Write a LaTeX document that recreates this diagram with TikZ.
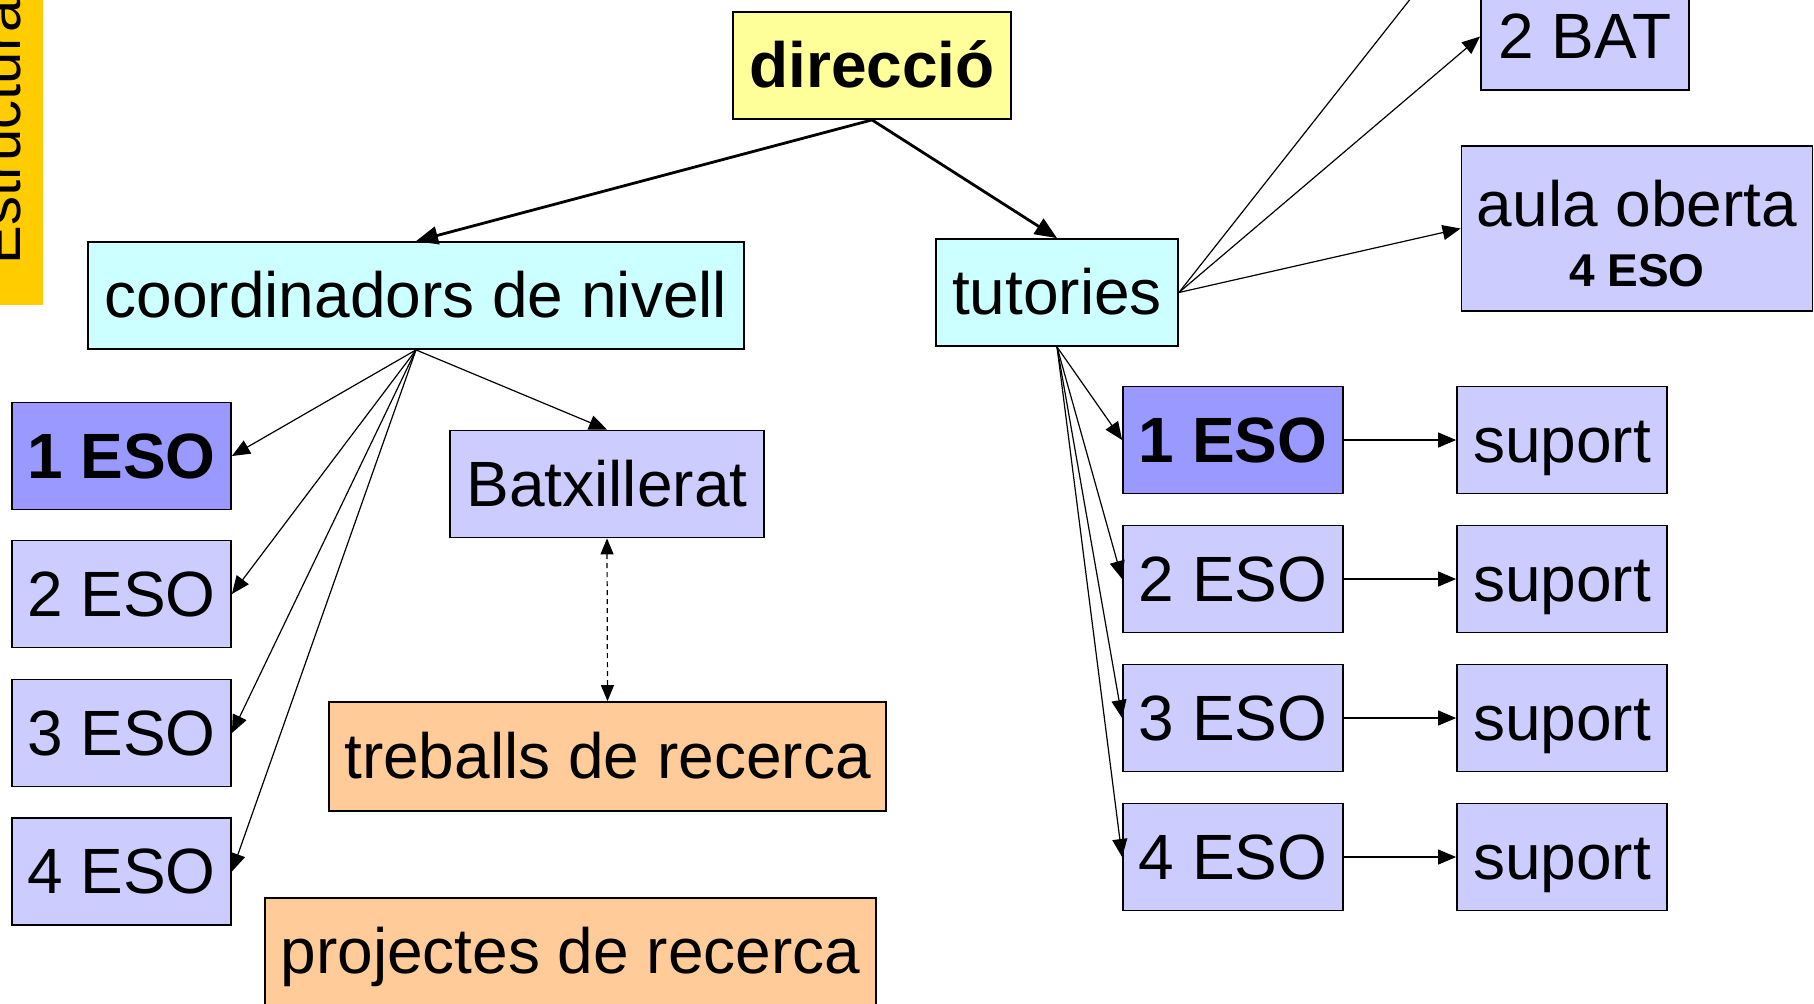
\documentclass[tikz,border=0pt]{standalone}
\usepackage{fontspec}
\setmainfont{Liberation Sans}
\usetikzlibrary{arrows.meta}
\definecolor{cyel}{HTML}{FFFF99}
\definecolor{ccyan}{HTML}{CCFFFF}
\definecolor{clav}{HTML}{CCCCFF}
\definecolor{cblue}{HTML}{9999FF}
\definecolor{corange}{HTML}{FFCC99}
\definecolor{cstrip}{HTML}{FFCC00}
\begin{document}
\begin{tikzpicture}[x=0.5pt,y=-0.5pt,
  box/.style={draw=black, line width=0.9pt, inner sep=0pt, minimum height=53.5pt,
    text height=28.96pt, text depth=6.78pt, font=\fontsize{32}{38}\selectfont},
  boldbox/.style={box, font=\fontsize{32}{38}\selectfont\bfseries},
  conn/.style={line width=0.6pt, -{Triangle[length=9pt,width=7.5pt]}},
  bigconn/.style={line width=1.4pt, -{Triangle[length=11pt,width=9pt]}},
  dconn/.style={line width=0.6pt, dash pattern=on 2.5pt off 2pt,
    {Triangle[length=8pt,width=6.5pt]}-{Triangle[length=8pt,width=6.5pt]}}
]
\useasboundingbox (0,0) rectangle (1814,1003);
\clip (0,0) rectangle (1814,1003);
\fill[white] (0,0) rectangle (1814,1003);

% side strip
\node[fill=cstrip, draw=none, inner sep=0pt, minimum width=21.5pt, minimum height=152.5pt] (strip) at (21.5,152.5) {};
\node[rotate=90, anchor=base west, inner sep=0pt, font=\fontsize{29}{35}\selectfont] (estr) at (20,265) {Estructura};

% top
\node[boldbox, fill=cyel, minimum width=139pt] (dir) at (872,65.5) {direcció};
\node[box, fill=ccyan, minimum width=328pt] (coord) at (416,295.5) {coordinadors de nivell};
\node[box, fill=ccyan, minimum width=121pt] (tut) at (1057,292.5) {tutories};

% left column
\node[boldbox, fill=cblue, minimum width=109.5pt] (L1) at (121.5,456) {1 ESO};
\node[box, fill=clav, minimum width=109.5pt] (L2) at (121.5,594) {2 ESO};
\node[box, fill=clav, minimum width=109.5pt] (L3) at (121.5,733) {3 ESO};
\node[box, fill=clav, minimum width=109.5pt] (L4) at (121.5,871.5) {4 ESO};

\node[box, fill=clav, minimum width=157pt] (bat) at (607,484) {Batxillerat};
\node[box, fill=corange, minimum width=278.5pt, minimum height=54.5pt] (treb) at (607.5,756.5) {treballs de recerca};
\node[box, fill=corange, minimum width=305.5pt] (proj) at (570.5,951.5) {projectes de recerca};

% right side
\node[box, fill=clav, minimum width=104pt] (bat2) at (1585,36.5) {2 BAT};
\node[draw=black, line width=0.9pt, inner sep=0pt, fill=clav, minimum width=175.5pt, minimum height=82.5pt] (aula) at (1637,228.5) {};
\node[anchor=base, inner sep=0pt, font=\fontsize{32}{38}\selectfont] (aulaA) at (1637,226) {aula oberta};
\node[anchor=base, inner sep=0pt, font=\fontsize{23}{28}\selectfont\bfseries] (aulaB) at (1637,286) {4 ESO};

\node[boldbox, fill=cblue, minimum width=110pt] (R1) at (1233,440) {1 ESO};
\node[box, fill=clav, minimum width=110pt] (R2) at (1233,579) {2 ESO};
\node[box, fill=clav, minimum width=110pt] (R3) at (1233,718) {3 ESO};
\node[box, fill=clav, minimum width=110pt] (R4) at (1233,857) {4 ESO};

\node[box, fill=clav, minimum width=105pt] (S1) at (1562,440) {suport};
\node[box, fill=clav, minimum width=105pt] (S2) at (1562,579) {suport};
\node[box, fill=clav, minimum width=105pt] (S3) at (1562,718) {suport};
\node[box, fill=clav, minimum width=105pt] (S4) at (1562,857) {suport};

\coordinate (offtop) at (1441,-40);

% connectors
\draw[bigconn] (dir.south) -- (coord.north);
\draw[bigconn] (dir.south) -- (tut.north);

\draw[conn] (coord.south) -- (L1.east);
\draw[conn] (coord.south) -- (L2.east);
\draw[conn] (coord.south) -- (L3.east);
\draw[conn] (coord.south) -- (L4.east);
\draw[conn] (coord.south) -- (bat.north);
\draw[dconn] (bat.south) -- (treb.north);

\draw[conn] (tut.east) -- (offtop);
\draw[conn] (tut.east) -- (bat2.west);
\draw[conn] (tut.east) -- (aula.west);

\draw[conn] (tut.south) -- (R1.west);
\draw[conn] (tut.south) -- (R2.west);
\draw[conn] (tut.south) -- (R3.west);
\draw[conn] (tut.south) -- (R4.west);

\draw[conn] (R1.east) -- (S1.west);
\draw[conn] (R2.east) -- (S2.west);
\draw[conn] (R3.east) -- (S3.west);
\draw[conn] (R4.east) -- (S4.west);
\end{tikzpicture}
\end{document}
